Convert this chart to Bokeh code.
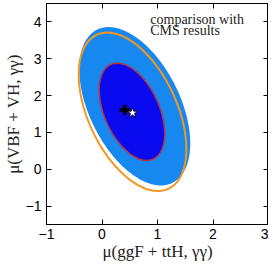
import numpy as np
from bokeh.plotting import figure
from bokeh.models import LinearAxis, FixedTicker, Label
from bokeh.embed import file_html
from bokeh.resources import INLINE

# Contour parameters: centre x, centre y, sigma x, sigma y, correlation
outer_fill = dict(cx=0.59, cy=1.71, sx=1.00, sy=2.15, rho=-0.47)
outer_line = dict(cx=0.55, cy=1.56, sx=0.97, sy=2.15, rho=-0.47)
inner_fill = dict(cx=0.54, cy=1.56, sx=0.59, sy=1.32, rho=-0.45)

plus_x = [0.41]
plus_y = [1.61]
star_x = [0.55]
star_y = [1.53]

x_ticks = [-1, 0, 1, 2, 3]
y_ticks = [-1, 0, 1, 2, 3, 4]
minus = {-1: "\u22121"}
x_title = "\u03bc(ggF + ttH, \u03b3\u03b3)"
y_title = "\u03bc(VBF + VH, \u03b3\u03b3)"
note_lines = ["comparison with", "CMS results"]

SERIF = "'Liberation Serif'"
SANS = "'Liberation Sans'"


def contour(c):
    t = np.linspace(0, 2 * np.pi, 200)
    xs = c["cx"] + c["sx"] * np.cos(t)
    ys = c["cy"] + c["sy"] * (c["rho"] * np.cos(t) + np.sqrt(1 - c["rho"] ** 2) * np.sin(t))
    return list(xs), list(ys)


p = figure(frame_width=222, frame_height=221, x_range=(-1, 3), y_range=(-1.5, 4.5),
           output_backend="svg", toolbar_location=None,
           min_border_left=44, min_border_right=0, min_border_top=3, min_border_bottom=41)
p.grid.visible = False
p.outline_line_color = "black"
p.outline_line_width = 1
p.background_fill_color = "white"

ox, oy = contour(outer_fill)
p.patch(ox, oy, fill_color="#1688f0", line_color=None)
lx, ly = contour(outer_line)
p.line(lx, ly, line_color="#f5961e", line_width=2)
ix, iy = contour(inner_fill)
p.patch(ix, iy, fill_color="#0a0af0", line_color="#b8343a", line_width=1.5)

p.scatter(plus_x, plus_y, marker="cross", size=10, line_color="black", line_width=3.5)
p.scatter(star_x, star_y, marker="star", size=11, fill_color="white", line_color="black", line_width=0.8)

p.add_layout(Label(x=0.87, y=3.85, text=note_lines[0], text_font=SERIF,
                   text_font_size="14px", text_color="#222222"))
p.add_layout(Label(x=0.87, y=3.56, text=note_lines[1], text_font=SERIF,
                   text_font_size="14px", text_color="#222222"))

for ax, ticks in ((p.xaxis[0], x_ticks), (p.yaxis[0], y_ticks)):
    ax.ticker = FixedTicker(ticks=ticks)
    ax.major_label_overrides = minus
    ax.major_tick_in = 5
    ax.major_tick_out = 0
    ax.minor_tick_line_color = None
    ax.major_label_text_font = SANS
    ax.major_label_text_font_size = "14px"
    ax.major_label_text_color = "black"
    ax.axis_label_text_font = SERIF
    ax.axis_label_text_font_style = "normal"
    ax.axis_label_text_font_size = "17px"
    ax.axis_label_text_color = "#222222"
    ax.axis_label_standoff = 0
p.xaxis[0].major_label_standoff = 4
p.yaxis[0].major_label_standoff = 5
p.xaxis[0].axis_label = x_title
p.yaxis[0].axis_label = y_title

top = LinearAxis(ticker=FixedTicker(ticks=x_ticks), major_tick_in=5, major_tick_out=0,
                 minor_tick_line_color=None, major_label_standoff=0,
                 major_label_overrides={t: "" for t in x_ticks})
right = LinearAxis(ticker=FixedTicker(ticks=y_ticks), major_tick_in=5, major_tick_out=0,
                   minor_tick_line_color=None, major_label_standoff=0,
                   major_label_overrides={t: "" for t in y_ticks})
p.add_layout(top, "above")
p.add_layout(right, "right")

open("out.html", "w").write(file_html(p, INLINE))
